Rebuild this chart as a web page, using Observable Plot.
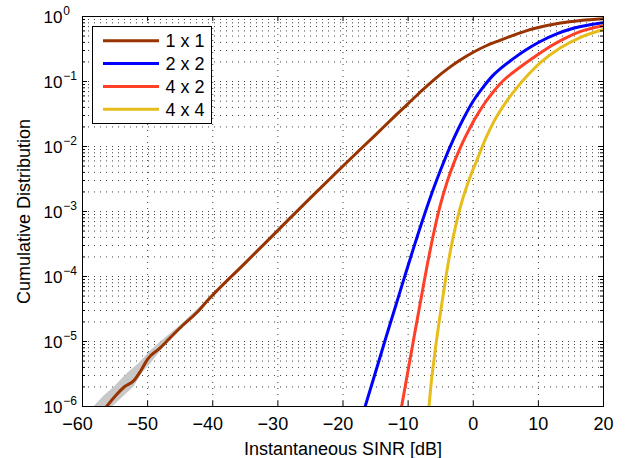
<!DOCTYPE html>
<html>
<head>
<meta charset="utf-8">
<script src="https://cdn.jsdelivr.net/npm/d3@7"></script>
<script src="https://cdn.jsdelivr.net/npm/@observablehq/plot@0.6"></script>
<style>
  html, body { margin: 0; padding: 0; background: #fff; }
  svg { font-family: "Liberation Sans", Arial, Helvetica, sans-serif; }
</style>
</head>
<body>
<div id="chart"></div>
<script>
// ---- data ----
const seriesNames = ["1 x 1", "2 x 2", "4 x 2", "4 x 4"];
const seriesColors = ["#993300", "#0000ff", "#ff3f26", "#e6bd1a"];

// x: instantaneous SINR [dB], logF: log10 of the cumulative distribution
const x1x1 =    [-56.3, -54.9, -53.6, -52.1, -51.05, -50.0, -48.2, -46.7, -44.6, -42.4, -40.8, -35.0, -30.0, -25.0, -20.0, -15.0, -12.0, -10.0, -8.0, -6.0, -4.0, -2.0, 0.0, 2.0, 4.0, 6.0, 8.0, 10.0, 13.4, 16.5, 20.0];
const logF1x1 = [-6.0, -5.83, -5.70, -5.60, -5.45, -5.27, -5.11, -4.96, -4.75, -4.55, -4.37, -3.79, -3.29, -2.79, -2.30, -1.82, -1.53, -1.34, -1.15, -0.97, -0.81, -0.67, -0.55, -0.45, -0.37, -0.295, -0.225, -0.17, -0.10, -0.062, -0.035];

const x2x2 =    [-16.6, -15.0, -13.5, -12.0, -10.5, -9.0, -7.5, -6.0, -4.5, -3.0, -1.5, 0.0, 1.5, 3.0, 4.5, 6.0, 8.0, 10.0, 13.0, 16.5, 20.0];
const logF2x2 = [-6.0, -5.47, -4.97, -4.48, -3.99, -3.51, -3.05, -2.62, -2.23, -1.88, -1.57, -1.30, -1.09, -0.91, -0.775, -0.66, -0.52, -0.40, -0.26, -0.155, -0.095];

const x4x2 =    [-11.0, -10.0, -9.0, -8.0, -7.0, -6.0, -5.0, -4.0, -3.0, -2.0, -1.0, 0.0, 1.0, 2.0, 3.0, 4.0, 5.0, 6.0, 8.0, 10.0, 12.0, 14.0, 16.5, 20.0];
const logF4x2 = [-6.0, -5.44, -4.88, -4.33, -3.79, -3.30, -2.88, -2.54, -2.26, -2.02, -1.81, -1.62, -1.45, -1.30, -1.17, -1.05, -0.95, -0.87, -0.72, -0.58, -0.45, -0.34, -0.23, -0.14];

const x4x4 =    [-6.8, -6.5, -6.2, -5.8, -5.3, -4.8, -4.15, -3.5, -2.7, -1.95, -0.6, 0.6, 1.9, 3.2, 5.0, 6.75, 8.5, 10.3, 13.4, 16.5, 20.0];
const logF4x4 = [-6.0, -5.68, -5.42, -5.10, -4.74, -4.40, -3.98, -3.60, -3.22, -2.92, -2.50, -2.20, -1.88, -1.61, -1.32, -1.09, -0.89, -0.71, -0.48, -0.32, -0.20];

// grey confidence band around the 1 x 1 curve (low tail)
const bandLogF = [-6.0, -5.83, -5.70, -5.50, -5.34, -5.15, -4.98, -4.80, -4.60, -4.40];
const bandLo =   [-58.2, -56.6, -55.1, -53.2, -51.3, -49.6, -47.7, -45.5, -43.3, -41.2];
const bandHi =   [-55.3, -53.5, -52.1, -50.9, -49.5, -48.0, -46.6, -44.7, -42.9, -40.9];

// axes
const xTicks = [-60, -50, -40, -30, -20, -10, 0, 10, 20];
const yExponents = [-6, -5, -4, -3, -2, -1, 0];
const yMinorMultipliers = [2, 3, 4, 5, 6, 7, 8, 9];

// ---- build tables ----
const xs = [x1x1, x2x2, x4x2, x4x4];
const ls = [logF1x1, logF2x2, logF4x2, logF4x4];
const rows = [];
seriesNames.forEach((name, i) => {
  xs[i].forEach((x, j) => rows.push({series: name, x, F: Math.pow(10, ls[i][j])}));
});
const band = bandLogF.map((f, i) => ({F: Math.pow(10, f), lo: bandLo[i], hi: bandHi[i]}));

const yMajor = yExponents.map(e => Math.pow(10, e));
const yMinor = [];
yExponents.slice(0, -1).forEach(e => yMinorMultipliers.forEach(m => yMinor.push(m * Math.pow(10, e))));
const yAll = yMajor.concat(yMinor);
const xNeg = xTicks.filter(d => d < 0);
const xPos = xTicks.filter(d => d >= 0);

const W = 628, H = 458;
const mL = 82, mR = 25, mT = 16, mB = 52;
const frameW = W - mL - mR, frameH = H - mT - mB;
const fs = 18;

const supText = e => (e < 0 ? "\u2212" + Math.abs(e) : String(e));
const fmtX = d => (d < 0 ? "\u2212" + Math.abs(d) : String(d));
const gridStyle = {stroke: "#000", strokeOpacity: 0.75, strokeDasharray: "1,5", strokeWidth: 1};

const chart = Plot.plot({
  width: W, height: H,
  marginLeft: mL, marginRight: mR, marginTop: mT, marginBottom: mB,
  style: {fontFamily: '"Liberation Sans", Arial, Helvetica, sans-serif', fontSize: fs + "px", background: "#fff", color: "#000"},
  x: {domain: [-60, 20]},
  y: {type: "log", domain: [1e-6, 1]},
  color: {domain: seriesNames, range: seriesColors},
  marks: [
    Plot.gridX(xTicks, gridStyle),
    Plot.gridY(yAll, gridStyle),
    Plot.areaX(band, {y: "F", x1: "lo", x2: "hi", fill: "#c8c8c8", curve: "linear", clip: true}),
    Plot.line(rows, {x: "x", y: "F", z: "series", stroke: "series", strokeWidth: 3, curve: "monotone-x", clip: true}),
    // inner ticks (MATLAB style)
    Plot.tickX(xTicks, {x: d => d, stroke: "#000", insetTop: frameH - 5}),
    Plot.tickX(xTicks, {x: d => d, stroke: "#000", insetBottom: frameH - 5}),
    Plot.tickY(yMajor, {y: d => d, stroke: "#000", insetRight: frameW - 5}),
    Plot.tickY(yMajor, {y: d => d, stroke: "#000", insetLeft: frameW - 5}),
    Plot.tickY(yMinor, {y: d => d, stroke: "#000", insetRight: frameW - 3}),
    Plot.tickY(yMinor, {y: d => d, stroke: "#000", insetLeft: frameW - 3}),
    Plot.frame({stroke: "#000", strokeWidth: 1}),
    Plot.axisX(xNeg, {tickSize: 0, tickPadding: 11, fontSize: fs, dx: -5, tickFormat: fmtX, label: null}),
    Plot.axisX(xPos, {
      tickSize: 0, tickPadding: 11, fontSize: fs, tickFormat: fmtX,
      label: "Instantaneous SINR [dB]", labelAnchor: "center", labelArrow: "none", labelOffset: 48
    }),
    Plot.axisY(yMajor, {
      tickSize: 0, tickFormat: () => "",
      label: "Cumulative Distribution", labelAnchor: "center", labelArrow: "none", labelOffset: 65, fontSize: fs
    }),
    // y tick labels: 10 with a superscript exponent
    Plot.text(yExponents, {y: e => Math.pow(10, e), frameAnchor: "left", dx: -20, text: () => "10", textAnchor: "end", fontSize: 17, dy: 1.5}),
    Plot.text(yExponents, {y: e => Math.pow(10, e), frameAnchor: "left", dx: -19.3, text: e => supText(e), textAnchor: "start", fontSize: 12, dy: -5})
  ]
});

// legend box
const svg = d3.select(chart);
const lg = svg.append("g").attr("transform", "translate(92.5,26.5)");
lg.append("rect").attr("width", 119).attr("height", 97).attr("fill", "#fff").attr("stroke", "#000").attr("stroke-width", 1);
seriesNames.forEach((name, i) => {
  const yy = 14.3 + i * 22.8;
  lg.append("line").attr("x1", 10.5).attr("x2", 66.5).attr("y1", yy).attr("y2", yy)
    .attr("stroke", seriesColors[i]).attr("stroke-width", 3);
  lg.append("text").attr("x", 73).attr("y", yy).attr("dy", "0.36em")
    .attr("text-anchor", "start").attr("font-size", fs).attr("fill", "#000").text(name);
});

document.getElementById("chart").appendChild(chart);
</script>
</body>
</html>
